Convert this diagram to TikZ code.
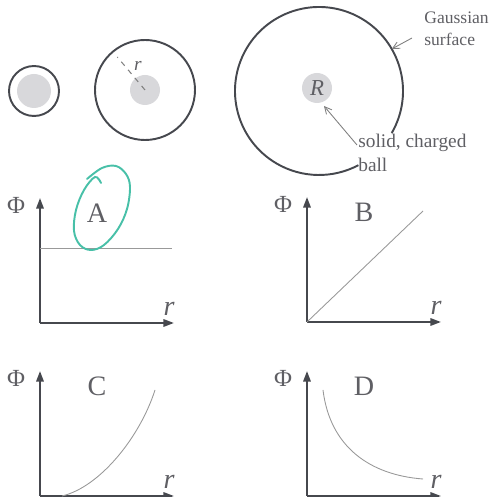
\documentclass[tikz,border=0pt]{standalone}
\usepackage{fontspec}
\setmainfont{Liberation Serif}
\usepackage{tikz}
\usetikzlibrary{positioning, arrows.meta, calc}

\definecolor{inkgray}{RGB}{70,72,78}
\definecolor{textgray}{RGB}{95,95,100}
\definecolor{ballgray}{RGB}{216,216,219}
\definecolor{markteal}{RGB}{72,192,168}

\tikzset{
    surfline/.style={inkgray, line width=1.1pt},
    ballfill/.style={fill=ballgray, draw=none},
    axisline/.style={inkgray, line width=1.1pt, -{Triangle[length=6pt, width=4.2pt]}},
    fluxline/.style={gray!80, line width=0.5pt},
    notearrow/.style={gray, line width=0.5pt, -{Straight Barb[length=4pt, width=4pt]}},
    notetext/.style={textgray, font=\fontsize{10}{12.5}\selectfont, align=left, inner sep=0pt},
    panellabel/.style={textgray, font=\fontsize{16}{18}\selectfont},
    philabel/.style={textgray, font=\fontsize{14}{16}\selectfont},
    rlabel/.style={textgray, font=\fontsize{16}{18}\selectfont\itshape}
}

\begin{document}
\begin{tikzpicture}[x=0.02cm, y=0.02cm]
    \useasboundingbox (0,0) rectangle (489,497);

    % Small sphere: surface inside the ball
    \fill[ballfill] (34,406) circle (17);
    \draw[surfline] (34,406) circle (25);

    % Middle sphere with radius r
    \coordinate (midc) at (145,407);
    \fill[ballfill] (midc) circle (15);
    \draw[surfline] (midc) circle (50);
    \coordinate (redge) at ($(midc)+(130:43)$);
    \draw[dashed, gray, line width=0.6pt] (midc) -- (redge);
    \node[rlabel, font=\fontsize{11}{13}\selectfont\itshape] (rmid) at (138,431) {r};

    % Large Gaussian surface (open arc) around the ball R
    \coordinate (bigc) at (319,406);
    \fill[ballfill] (317,409) circle (15);
    \node[textgray, font=\fontsize{13}{15}\selectfont\itshape] (ballR) at (317,409) {R};
    \draw[surfline] ($(bigc)+(-30:84)$) arc[start angle=-30, end angle=298, radius=84];
    \coordinate (surfpt) at ($(bigc)+(30:84)$);

    % Notes with arrows
    \node[notetext, anchor=west] (gauss) at (424,468) {Gaussian\\surface};
    \draw[notearrow] (412,459) -- (surfpt);
    \node[notetext, font=\fontsize{11}{13.5}\selectfont, anchor=west] (solid) at (358,344) {solid, charged\\ball};
    \coordinate (balltip) at (324,391);
    \draw[notearrow] (357,352) -- (balltip);

    % Four flux graphs: axes and labels
    \foreach \ox/\oy/\lab in {40/174/A, 307/175/B, 40/1/C, 307/1/D} {
        \coordinate (o\lab) at (\ox,\oy);
        \draw[axisline] (o\lab) -- ++(0,125);
        \draw[axisline] (o\lab) -- ++(134,0);
        \node[philabel] (phi\lab) at ($(o\lab)+(-24,118)$) {Φ};
        \node[panellabel] (lab\lab) at ($(o\lab)+(57,110)$) {\lab};
        \node[rlabel] (r\lab) at ($(o\lab)+(129,14)$) {r};
    }

    % A: constant
    \draw[fluxline] (40,249) -- (172,249);
    % B: linear
    \draw[fluxline] (oB) -- (423,286);
    % C: rising curve
    \draw[fluxline] (62,1) .. controls (100,10) and (140,60) .. (155,107);
    % D: falling curve
    \draw[fluxline] (323,107) .. controls (330,50) and (370,22) .. (423,18);

    % Hand-drawn teal loop round A
    \draw[markteal, line width=1.1pt, line cap=round] plot[smooth, tension=0.6] coordinates {
        (87,318) (102,329) (116,331) (126,323) (130,310) (127,288)
        (118,268) (104,252) (91,247) (80,252) (74,266) (76,287)
        (84,307) (95,320) (101,314)};
\end{tikzpicture}
\end{document}
